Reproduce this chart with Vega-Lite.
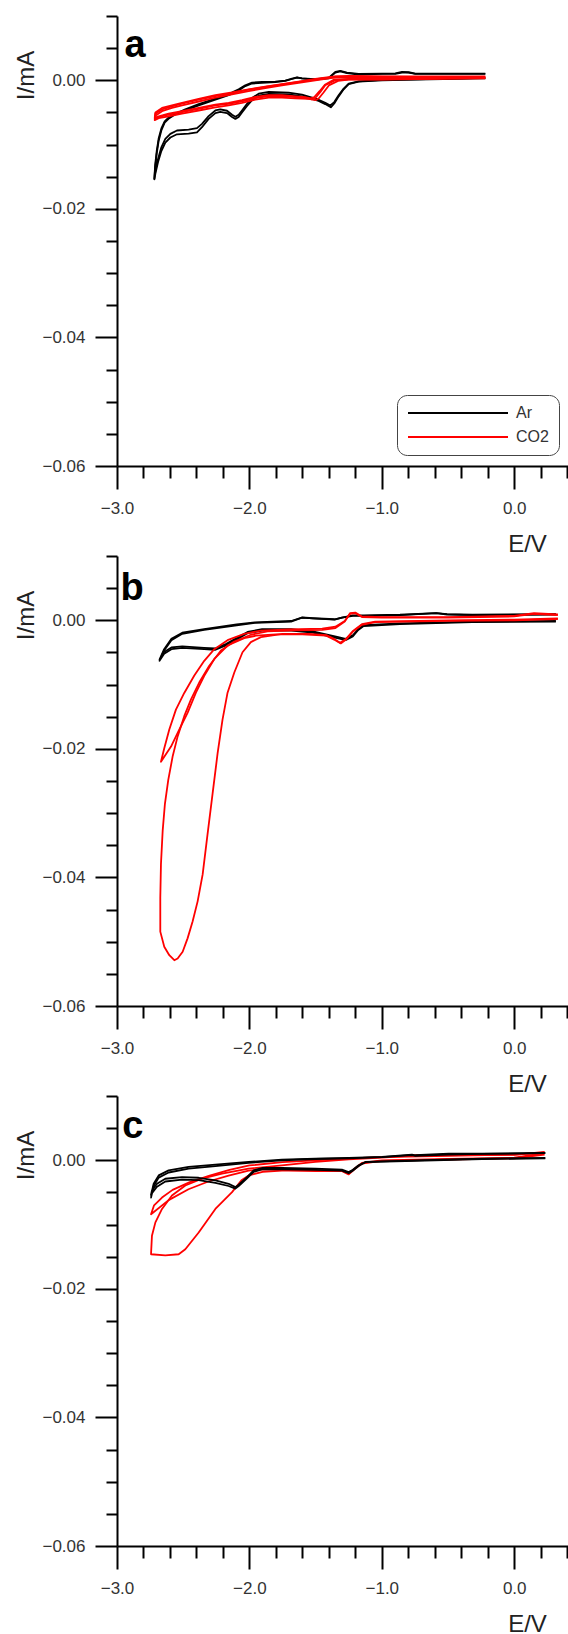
{
"$schema":"https://vega.github.io/schema/vega-lite/v6.json",
"padding":{"left":14,"top":15,"right":0,"bottom":0},
"datasets":{
"a":[
{"g":"Ar","c":1,"E":-0.218,"I":0.00036},{"g":"Ar","c":1,"E":-0.495,"I":0.00026},{"g":"Ar","c":1,"E":-0.747,"I":0.00016},{"g":"Ar","c":1,"E":-0.998,"I":0.00005},{"g":"Ar","c":1,"E":-1.175,"I":-0.00016},{"g":"Ar","c":1,"E":-1.25,"I":-0.00052},{"g":"Ar","c":1,"E":-1.288,"I":-0.0013},{"g":"Ar","c":1,"E":-1.326,"I":-0.00234},{"g":"Ar","c":1,"E":-1.359,"I":-0.00339},{"g":"Ar","c":1,"E":-1.389,"I":-0.00391},{"g":"Ar","c":1,"E":-1.427,"I":-0.00349},{"g":"Ar","c":1,"E":-1.477,"I":-0.00302},{"g":"Ar","c":1,"E":-1.527,"I":-0.00271},{"g":"Ar","c":1,"E":-1.603,"I":-0.00224},{"g":"Ar","c":1,"E":-1.703,"I":-0.00193},{"g":"Ar","c":1,"E":-1.854,"I":-0.00182},{"g":"Ar","c":1,"E":-1.93,"I":-0.00208},{"g":"Ar","c":1,"E":-1.98,"I":-0.00276},{"g":"Ar","c":1,"E":-2.018,"I":-0.00365},{"g":"Ar","c":1,"E":-2.056,"I":-0.00469},{"g":"Ar","c":1,"E":-2.081,"I":-0.00536},{"g":"Ar","c":1,"E":-2.106,"I":-0.00568},{"g":"Ar","c":1,"E":-2.131,"I":-0.00536},{"g":"Ar","c":1,"E":-2.169,"I":-0.00474},{"g":"Ar","c":1,"E":-2.22,"I":-0.00453},{"g":"Ar","c":1,"E":-2.257,"I":-0.00469},{"g":"Ar","c":1,"E":-2.308,"I":-0.00557},{"g":"Ar","c":1,"E":-2.358,"I":-0.00677},{"g":"Ar","c":1,"E":-2.396,"I":-0.00745},{"g":"Ar","c":1,"E":-2.459,"I":-0.00766},{"g":"Ar","c":1,"E":-2.547,"I":-0.00781},{"g":"Ar","c":1,"E":-2.597,"I":-0.00833},{"g":"Ar","c":1,"E":-2.635,"I":-0.00911},{"g":"Ar","c":1,"E":-2.665,"I":-0.01042},{"g":"Ar","c":1,"E":-2.69,"I":-0.01224},{"g":"Ar","c":1,"E":-2.71,"I":-0.01406},{"g":"Ar","c":1,"E":-2.718,"I":-0.01536},
{"g":"Ar","c":1,"E":-2.712,"I":-0.0132},{"g":"Ar","c":1,"E":-2.7,"I":-0.011},{"g":"Ar","c":1,"E":-2.685,"I":-0.009},{"g":"Ar","c":1,"E":-2.665,"I":-0.0075},{"g":"Ar","c":1,"E":-2.64,"I":-0.0064},{"g":"Ar","c":1,"E":-2.605,"I":-0.0057},{"g":"Ar","c":1,"E":-2.559,"I":-0.0052},{"g":"Ar","c":1,"E":-2.484,"I":-0.00453},{"g":"Ar","c":1,"E":-2.383,"I":-0.0037},{"g":"Ar","c":1,"E":-2.257,"I":-0.00286},{"g":"Ar","c":1,"E":-2.157,"I":-0.00214},{"g":"Ar","c":1,"E":-2.081,"I":-0.00141},{"g":"Ar","c":1,"E":-2.031,"I":-0.00078},{"g":"Ar","c":1,"E":-1.98,"I":-0.00036},{"g":"Ar","c":1,"E":-1.905,"I":-0.00026},{"g":"Ar","c":1,"E":-1.804,"I":-0.00021},{"g":"Ar","c":1,"E":-1.729,"I":-0.00005},{"g":"Ar","c":1,"E":-1.678,"I":0.00026},{"g":"Ar","c":1,"E":-1.64,"I":0.00047},{"g":"Ar","c":1,"E":-1.603,"I":0.00031},{"g":"Ar","c":1,"E":-1.502,"I":0.00016},{"g":"Ar","c":1,"E":-1.401,"I":0.00036},{"g":"Ar","c":1,"E":-1.351,"I":0.0013},{"g":"Ar","c":1,"E":-1.313,"I":0.00146},{"g":"Ar","c":1,"E":-1.263,"I":0.0012},{"g":"Ar","c":1,"E":-1.175,"I":0.00099},{"g":"Ar","c":1,"E":-0.998,"I":0.00104},{"g":"Ar","c":1,"E":-0.898,"I":0.00109},{"g":"Ar","c":1,"E":-0.847,"I":0.0013},{"g":"Ar","c":1,"E":-0.797,"I":0.00125},{"g":"Ar","c":1,"E":-0.747,"I":0.00104},{"g":"Ar","c":1,"E":-0.218,"I":0.00104},
{"g":"Ar","c":2,"E":-0.218,"I":0.0003},{"g":"Ar","c":2,"E":-0.747,"I":0.0001},{"g":"Ar","c":2,"E":-0.998,"I":0.0},{"g":"Ar","c":2,"E":-1.175,"I":-0.0002},{"g":"Ar","c":2,"E":-1.25,"I":-0.0006},{"g":"Ar","c":2,"E":-1.288,"I":-0.0014},{"g":"Ar","c":2,"E":-1.326,"I":-0.0025},{"g":"Ar","c":2,"E":-1.359,"I":-0.0036},{"g":"Ar","c":2,"E":-1.385,"I":-0.0042},{"g":"Ar","c":2,"E":-1.427,"I":-0.0037},{"g":"Ar","c":2,"E":-1.477,"I":-0.0032},{"g":"Ar","c":2,"E":-1.527,"I":-0.0029},{"g":"Ar","c":2,"E":-1.603,"I":-0.0025},{"g":"Ar","c":2,"E":-1.703,"I":-0.0022},{"g":"Ar","c":2,"E":-1.854,"I":-0.0021},{"g":"Ar","c":2,"E":-1.93,"I":-0.0024},{"g":"Ar","c":2,"E":-1.98,"I":-0.0031},{"g":"Ar","c":2,"E":-2.018,"I":-0.004},{"g":"Ar","c":2,"E":-2.056,"I":-0.005},{"g":"Ar","c":2,"E":-2.081,"I":-0.0057},{"g":"Ar","c":2,"E":-2.106,"I":-0.006},{"g":"Ar","c":2,"E":-2.131,"I":-0.0057},{"g":"Ar","c":2,"E":-2.169,"I":-0.0051},{"g":"Ar","c":2,"E":-2.22,"I":-0.0049},{"g":"Ar","c":2,"E":-2.257,"I":-0.0051},{"g":"Ar","c":2,"E":-2.308,"I":-0.006},{"g":"Ar","c":2,"E":-2.358,"I":-0.0073},{"g":"Ar","c":2,"E":-2.396,"I":-0.0081},{"g":"Ar","c":2,"E":-2.459,"I":-0.0083},{"g":"Ar","c":2,"E":-2.547,"I":-0.0084},{"g":"Ar","c":2,"E":-2.597,"I":-0.0089},{"g":"Ar","c":2,"E":-2.635,"I":-0.0097},{"g":"Ar","c":2,"E":-2.665,"I":-0.011},{"g":"Ar","c":2,"E":-2.69,"I":-0.0127},{"g":"Ar","c":2,"E":-2.71,"I":-0.0145},{"g":"Ar","c":2,"E":-2.718,"I":-0.0154},
{"g":"Ar","c":2,"E":-2.712,"I":-0.0137},{"g":"Ar","c":2,"E":-2.7,"I":-0.0114},{"g":"Ar","c":2,"E":-2.685,"I":-0.0094},{"g":"Ar","c":2,"E":-2.665,"I":-0.0078},{"g":"Ar","c":2,"E":-2.64,"I":-0.0066},{"g":"Ar","c":2,"E":-2.605,"I":-0.0059},{"g":"Ar","c":2,"E":-2.559,"I":-0.0053},{"g":"Ar","c":2,"E":-2.484,"I":-0.0047},{"g":"Ar","c":2,"E":-2.383,"I":-0.0039},{"g":"Ar","c":2,"E":-2.257,"I":-0.003},{"g":"Ar","c":2,"E":-2.157,"I":-0.0023},{"g":"Ar","c":2,"E":-2.081,"I":-0.0016},{"g":"Ar","c":2,"E":-2.031,"I":-0.0009},{"g":"Ar","c":2,"E":-1.98,"I":-0.0005},{"g":"Ar","c":2,"E":-1.905,"I":-0.0004},{"g":"Ar","c":2,"E":-1.804,"I":-0.0003},{"g":"Ar","c":2,"E":-1.729,"I":-0.0001},{"g":"Ar","c":2,"E":-1.678,"I":0.0002},{"g":"Ar","c":2,"E":-1.64,"I":0.0004},{"g":"Ar","c":2,"E":-1.603,"I":0.0003},{"g":"Ar","c":2,"E":-1.502,"I":0.0001},{"g":"Ar","c":2,"E":-1.401,"I":0.0003},{"g":"Ar","c":2,"E":-1.351,"I":0.0012},{"g":"Ar","c":2,"E":-1.313,"I":0.0014},{"g":"Ar","c":2,"E":-1.263,"I":0.0011},{"g":"Ar","c":2,"E":-1.175,"I":0.0009},{"g":"Ar","c":2,"E":-0.998,"I":0.001},{"g":"Ar","c":2,"E":-0.898,"I":0.001},{"g":"Ar","c":2,"E":-0.847,"I":0.0012},{"g":"Ar","c":2,"E":-0.797,"I":0.0012},{"g":"Ar","c":2,"E":-0.747,"I":0.001},{"g":"Ar","c":2,"E":-0.218,"I":0.001},
{"g":"CO2","c":1,"E":-0.218,"I":0.00036},{"g":"CO2","c":1,"E":-0.747,"I":0.00021},{"g":"CO2","c":1,"E":-0.998,"I":0.00016},{"g":"CO2","c":1,"E":-1.25,"I":0.00016},{"g":"CO2","c":1,"E":-1.351,"I":0.0},{"g":"CO2","c":1,"E":-1.427,"I":-0.00078},{"g":"CO2","c":1,"E":-1.464,"I":-0.00182},{"g":"CO2","c":1,"E":-1.502,"I":-0.00276},{"g":"CO2","c":1,"E":-1.527,"I":-0.00297},{"g":"CO2","c":1,"E":-1.578,"I":-0.00276},{"g":"CO2","c":1,"E":-1.653,"I":-0.0026},{"g":"CO2","c":1,"E":-1.754,"I":-0.00245},{"g":"CO2","c":1,"E":-1.854,"I":-0.00245},{"g":"CO2","c":1,"E":-1.955,"I":-0.00276},{"g":"CO2","c":1,"E":-2.056,"I":-0.00328},{"g":"CO2","c":1,"E":-2.157,"I":-0.00365},{"g":"CO2","c":1,"E":-2.257,"I":-0.00391},{"g":"CO2","c":1,"E":-2.383,"I":-0.00443},{"g":"CO2","c":1,"E":-2.509,"I":-0.00495},{"g":"CO2","c":1,"E":-2.61,"I":-0.00536},{"g":"CO2","c":1,"E":-2.685,"I":-0.00573},{"g":"CO2","c":1,"E":-2.715,"I":-0.00599},
{"g":"CO2","c":1,"E":-2.71,"I":-0.00521},{"g":"CO2","c":1,"E":-2.66,"I":-0.00453},{"g":"CO2","c":1,"E":-2.585,"I":-0.00406},{"g":"CO2","c":1,"E":-2.509,"I":-0.00365},{"g":"CO2","c":1,"E":-2.383,"I":-0.00302},{"g":"CO2","c":1,"E":-2.257,"I":-0.00245},{"g":"CO2","c":1,"E":-2.131,"I":-0.00198},{"g":"CO2","c":1,"E":-2.006,"I":-0.00146},{"g":"CO2","c":1,"E":-1.88,"I":-0.00104},{"g":"CO2","c":1,"E":-1.754,"I":-0.00062},{"g":"CO2","c":1,"E":-1.628,"I":-0.00026},{"g":"CO2","c":1,"E":-1.502,"I":0.0001},{"g":"CO2","c":1,"E":-1.401,"I":0.00042},{"g":"CO2","c":1,"E":-1.351,"I":0.00057},{"g":"CO2","c":1,"E":-1.25,"I":0.00062},{"g":"CO2","c":1,"E":-0.998,"I":0.00057},{"g":"CO2","c":1,"E":-0.747,"I":0.00052},{"g":"CO2","c":1,"E":-0.218,"I":0.00052},
{"g":"CO2","c":2,"E":-0.218,"I":0.0003},{"g":"CO2","c":2,"E":-0.747,"I":0.0002},{"g":"CO2","c":2,"E":-0.998,"I":0.00012},{"g":"CO2","c":2,"E":-1.25,"I":0.0001},{"g":"CO2","c":2,"E":-1.33,"I":-0.0001},{"g":"CO2","c":2,"E":-1.4,"I":-0.0008},{"g":"CO2","c":2,"E":-1.44,"I":-0.0019},{"g":"CO2","c":2,"E":-1.475,"I":-0.0028},{"g":"CO2","c":2,"E":-1.5,"I":-0.0031},{"g":"CO2","c":2,"E":-1.55,"I":-0.0029},{"g":"CO2","c":2,"E":-1.653,"I":-0.0028},{"g":"CO2","c":2,"E":-1.754,"I":-0.0027},{"g":"CO2","c":2,"E":-1.854,"I":-0.0027},{"g":"CO2","c":2,"E":-1.955,"I":-0.003},{"g":"CO2","c":2,"E":-2.056,"I":-0.0035},{"g":"CO2","c":2,"E":-2.157,"I":-0.0039},{"g":"CO2","c":2,"E":-2.257,"I":-0.0042},{"g":"CO2","c":2,"E":-2.383,"I":-0.0047},{"g":"CO2","c":2,"E":-2.509,"I":-0.0052},{"g":"CO2","c":2,"E":-2.61,"I":-0.0056},{"g":"CO2","c":2,"E":-2.685,"I":-0.0059},{"g":"CO2","c":2,"E":-2.715,"I":-0.0062},
{"g":"CO2","c":2,"E":-2.71,"I":-0.0055},{"g":"CO2","c":2,"E":-2.66,"I":-0.0048},{"g":"CO2","c":2,"E":-2.585,"I":-0.0043},{"g":"CO2","c":2,"E":-2.509,"I":-0.0039},{"g":"CO2","c":2,"E":-2.383,"I":-0.0033},{"g":"CO2","c":2,"E":-2.257,"I":-0.0027},{"g":"CO2","c":2,"E":-2.131,"I":-0.0022},{"g":"CO2","c":2,"E":-2.006,"I":-0.0017},{"g":"CO2","c":2,"E":-1.88,"I":-0.0012},{"g":"CO2","c":2,"E":-1.754,"I":-0.0008},{"g":"CO2","c":2,"E":-1.628,"I":-0.0004},{"g":"CO2","c":2,"E":-1.502,"I":0.0},{"g":"CO2","c":2,"E":-1.401,"I":0.0003},{"g":"CO2","c":2,"E":-1.351,"I":0.0004},{"g":"CO2","c":2,"E":-1.25,"I":0.0005},{"g":"CO2","c":2,"E":-0.998,"I":0.0005},{"g":"CO2","c":2,"E":-0.747,"I":0.0004},{"g":"CO2","c":2,"E":-0.218,"I":0.0004},
{"g":"CO2","c":3,"E":-0.218,"I":0.0004},{"g":"CO2","c":3,"E":-0.747,"I":0.00025},{"g":"CO2","c":3,"E":-0.998,"I":0.0002},{"g":"CO2","c":3,"E":-1.25,"I":0.0002},{"g":"CO2","c":3,"E":-1.36,"I":0.0001},{"g":"CO2","c":3,"E":-1.43,"I":-0.0007},{"g":"CO2","c":3,"E":-1.47,"I":-0.0017},{"g":"CO2","c":3,"E":-1.51,"I":-0.0026},{"g":"CO2","c":3,"E":-1.535,"I":-0.0028},{"g":"CO2","c":3,"E":-1.59,"I":-0.0026},{"g":"CO2","c":3,"E":-1.653,"I":-0.0025},{"g":"CO2","c":3,"E":-1.754,"I":-0.0023},{"g":"CO2","c":3,"E":-1.854,"I":-0.0023},{"g":"CO2","c":3,"E":-1.955,"I":-0.0026},{"g":"CO2","c":3,"E":-2.056,"I":-0.0031},{"g":"CO2","c":3,"E":-2.157,"I":-0.0035},{"g":"CO2","c":3,"E":-2.257,"I":-0.0038},{"g":"CO2","c":3,"E":-2.383,"I":-0.0043},{"g":"CO2","c":3,"E":-2.509,"I":-0.0048},{"g":"CO2","c":3,"E":-2.61,"I":-0.0052},{"g":"CO2","c":3,"E":-2.685,"I":-0.0056},{"g":"CO2","c":3,"E":-2.715,"I":-0.0058},
{"g":"CO2","c":3,"E":-2.71,"I":-0.005},{"g":"CO2","c":3,"E":-2.66,"I":-0.0043},{"g":"CO2","c":3,"E":-2.585,"I":-0.0039},{"g":"CO2","c":3,"E":-2.509,"I":-0.0035},{"g":"CO2","c":3,"E":-2.383,"I":-0.0029},{"g":"CO2","c":3,"E":-2.257,"I":-0.0023},{"g":"CO2","c":3,"E":-2.131,"I":-0.0019},{"g":"CO2","c":3,"E":-2.006,"I":-0.0014},{"g":"CO2","c":3,"E":-1.88,"I":-0.001},{"g":"CO2","c":3,"E":-1.754,"I":-0.0006},{"g":"CO2","c":3,"E":-1.628,"I":-0.0002},{"g":"CO2","c":3,"E":-1.502,"I":0.0002},{"g":"CO2","c":3,"E":-1.401,"I":0.0005},{"g":"CO2","c":3,"E":-1.351,"I":0.0006},{"g":"CO2","c":3,"E":-1.25,"I":0.0007},{"g":"CO2","c":3,"E":-0.998,"I":0.0006},{"g":"CO2","c":3,"E":-0.747,"I":0.0006},{"g":"CO2","c":3,"E":-0.218,"I":0.0006}
],
"b":[
{"g":"Ar","c":1,"E":0.315,"I":-0.0001},{"g":"Ar","c":1,"E":-0.315,"I":-0.0002},{"g":"Ar","c":1,"E":-0.863,"I":-0.00048},{"g":"Ar","c":1,"E":-1.137,"I":-0.00075},{"g":"Ar","c":1,"E":-1.178,"I":-0.00139},{"g":"Ar","c":1,"E":-1.219,"I":-0.00235},{"g":"Ar","c":1,"E":-1.274,"I":-0.00289},{"g":"Ar","c":1,"E":-1.329,"I":-0.00262},{"g":"Ar","c":1,"E":-1.521,"I":-0.00171},{"g":"Ar","c":1,"E":-1.685,"I":-0.00139},{"g":"Ar","c":1,"E":-1.904,"I":-0.00139},{"g":"Ar","c":1,"E":-2.014,"I":-0.00182},{"g":"Ar","c":1,"E":-2.096,"I":-0.00278},{"g":"Ar","c":1,"E":-2.178,"I":-0.00369},{"g":"Ar","c":1,"E":-2.26,"I":-0.00439},{"g":"Ar","c":1,"E":-2.342,"I":-0.00428},{"g":"Ar","c":1,"E":-2.507,"I":-0.00407},{"g":"Ar","c":1,"E":-2.589,"I":-0.00423},{"g":"Ar","c":1,"E":-2.644,"I":-0.00492},{"g":"Ar","c":1,"E":-2.679,"I":-0.0061},
{"g":"Ar","c":1,"E":-2.644,"I":-0.0045},{"g":"Ar","c":1,"E":-2.589,"I":-0.00289},{"g":"Ar","c":1,"E":-2.507,"I":-0.00193},{"g":"Ar","c":1,"E":-2.342,"I":-0.00139},{"g":"Ar","c":1,"E":-2.096,"I":-0.00064},{"g":"Ar","c":1,"E":-1.959,"I":-0.00032},{"g":"Ar","c":1,"E":-1.685,"I":-0.00011},{"g":"Ar","c":1,"E":-1.603,"I":0.00043},{"g":"Ar","c":1,"E":-1.521,"I":0.00032},{"g":"Ar","c":1,"E":-1.356,"I":0.00016},{"g":"Ar","c":1,"E":-1.301,"I":0.00043},{"g":"Ar","c":1,"E":-1.219,"I":0.00075},{"g":"Ar","c":1,"E":-1.137,"I":0.00075},{"g":"Ar","c":1,"E":-0.863,"I":0.00086},{"g":"Ar","c":1,"E":-0.589,"I":0.00112},{"g":"Ar","c":1,"E":-0.507,"I":0.00096},{"g":"Ar","c":1,"E":-0.315,"I":0.00086},{"g":"Ar","c":1,"E":0.315,"I":0.00096},
{"g":"Ar","c":2,"E":0.315,"I":-0.0002},{"g":"Ar","c":2,"E":-0.315,"I":-0.0003},{"g":"Ar","c":2,"E":-0.863,"I":-0.0006},{"g":"Ar","c":2,"E":-1.137,"I":-0.0009},{"g":"Ar","c":2,"E":-1.178,"I":-0.0015},{"g":"Ar","c":2,"E":-1.219,"I":-0.0025},{"g":"Ar","c":2,"E":-1.274,"I":-0.0031},{"g":"Ar","c":2,"E":-1.329,"I":-0.0028},{"g":"Ar","c":2,"E":-1.521,"I":-0.0019},{"g":"Ar","c":2,"E":-1.685,"I":-0.0016},{"g":"Ar","c":2,"E":-1.904,"I":-0.0016},{"g":"Ar","c":2,"E":-2.014,"I":-0.002},{"g":"Ar","c":2,"E":-2.096,"I":-0.003},{"g":"Ar","c":2,"E":-2.178,"I":-0.0039},{"g":"Ar","c":2,"E":-2.26,"I":-0.0046},{"g":"Ar","c":2,"E":-2.342,"I":-0.0045},{"g":"Ar","c":2,"E":-2.507,"I":-0.0043},{"g":"Ar","c":2,"E":-2.589,"I":-0.0045},{"g":"Ar","c":2,"E":-2.644,"I":-0.0052},{"g":"Ar","c":2,"E":-2.679,"I":-0.0063},
{"g":"Ar","c":2,"E":-2.644,"I":-0.0047},{"g":"Ar","c":2,"E":-2.589,"I":-0.0031},{"g":"Ar","c":2,"E":-2.507,"I":-0.0021},{"g":"Ar","c":2,"E":-2.342,"I":-0.0015},{"g":"Ar","c":2,"E":-2.096,"I":-0.0008},{"g":"Ar","c":2,"E":-1.959,"I":-0.0004},{"g":"Ar","c":2,"E":-1.685,"I":-0.0002},{"g":"Ar","c":2,"E":-1.603,"I":0.0004},{"g":"Ar","c":2,"E":-1.521,"I":0.0003},{"g":"Ar","c":2,"E":-1.356,"I":0.0001},{"g":"Ar","c":2,"E":-1.301,"I":0.0004},{"g":"Ar","c":2,"E":-1.219,"I":0.0007},{"g":"Ar","c":2,"E":-1.137,"I":0.0007},{"g":"Ar","c":2,"E":-0.863,"I":0.0008},{"g":"Ar","c":2,"E":-0.589,"I":0.0011},{"g":"Ar","c":2,"E":-0.507,"I":0.0009},{"g":"Ar","c":2,"E":-0.315,"I":0.0008},{"g":"Ar","c":2,"E":0.315,"I":0.0009},
{"g":"CO2","c":1,"E":0.33,"I":0.0003},{"g":"CO2","c":1,"E":0.0,"I":0.0001},{"g":"CO2","c":1,"E":-0.5,"I":0.0},{"g":"CO2","c":1,"E":-1.05,"I":-0.0002},{"g":"CO2","c":1,"E":-1.15,"I":-0.0006},{"g":"CO2","c":1,"E":-1.22,"I":-0.0017},{"g":"CO2","c":1,"E":-1.27,"I":-0.0029},{"g":"CO2","c":1,"E":-1.315,"I":-0.0035},{"g":"CO2","c":1,"E":-1.36,"I":-0.0029},{"g":"CO2","c":1,"E":-1.42,"I":-0.0023},{"g":"CO2","c":1,"E":-1.55,"I":-0.0021},{"g":"CO2","c":1,"E":-1.75,"I":-0.0021},{"g":"CO2","c":1,"E":-1.913,"I":-0.00262},{"g":"CO2","c":1,"E":-1.989,"I":-0.0034},{"g":"CO2","c":1,"E":-2.052,"I":-0.00497},{"g":"CO2","c":1,"E":-2.114,"I":-0.00812},{"g":"CO2","c":1,"E":-2.165,"I":-0.01126},{"g":"CO2","c":1,"E":-2.203,"I":-0.01545},{"g":"CO2","c":1,"E":-2.24,"I":-0.02068},{"g":"CO2","c":1,"E":-2.278,"I":-0.02697},{"g":"CO2","c":1,"E":-2.316,"I":-0.03325},{"g":"CO2","c":1,"E":-2.353,"I":-0.03953},{"g":"CO2","c":1,"E":-2.391,"I":-0.04372},{"g":"CO2","c":1,"E":-2.429,"I":-0.04686},{"g":"CO2","c":1,"E":-2.467,"I":-0.04948},{"g":"CO2","c":1,"E":-2.504,"I":-0.05157},{"g":"CO2","c":1,"E":-2.542,"I":-0.05262},{"g":"CO2","c":1,"E":-2.567,"I":-0.05288},{"g":"CO2","c":1,"E":-2.605,"I":-0.0521},{"g":"CO2","c":1,"E":-2.643,"I":-0.05079},{"g":"CO2","c":1,"E":-2.673,"I":-0.04843},
{"g":"CO2","c":1,"E":-2.673,"I":-0.0432},{"g":"CO2","c":1,"E":-2.668,"I":-0.03796},{"g":"CO2","c":1,"E":-2.655,"I":-0.03273},{"g":"CO2","c":1,"E":-2.638,"I":-0.02854},{"g":"CO2","c":1,"E":-2.613,"I":-0.02487},{"g":"CO2","c":1,"E":-2.58,"I":-0.0212},{"g":"CO2","c":1,"E":-2.542,"I":-0.01806},{"g":"CO2","c":1,"E":-2.492,"I":-0.01492},{"g":"CO2","c":1,"E":-2.441,"I":-0.0123},{"g":"CO2","c":1,"E":-2.379,"I":-0.00969},{"g":"CO2","c":1,"E":-2.303,"I":-0.00707},{"g":"CO2","c":1,"E":-2.215,"I":-0.00471},{"g":"CO2","c":1,"E":-2.114,"I":-0.0033},{"g":"CO2","c":1,"E":-1.989,"I":-0.00225},{"g":"CO2","c":1,"E":-1.863,"I":-0.00173},{"g":"CO2","c":1,"E":-1.662,"I":-0.00157},{"g":"CO2","c":1,"E":-1.45,"I":-0.0015},{"g":"CO2","c":1,"E":-1.35,"I":-0.0012},{"g":"CO2","c":1,"E":-1.28,"I":-0.0002},{"g":"CO2","c":1,"E":-1.24,"I":0.0011},{"g":"CO2","c":1,"E":-1.2,"I":0.0012},{"g":"CO2","c":1,"E":-1.15,"I":0.0006},{"g":"CO2","c":1,"E":-1.0,"I":0.0005},{"g":"CO2","c":1,"E":-0.5,"I":0.0005},{"g":"CO2","c":1,"E":0.0,"I":0.0007},{"g":"CO2","c":1,"E":0.15,"I":0.0011},{"g":"CO2","c":1,"E":0.33,"I":0.0009},
{"g":"CO2","c":2,"E":0.33,"I":0.0002},{"g":"CO2","c":2,"E":0.0,"I":0.0},{"g":"CO2","c":2,"E":-0.5,"I":-0.0001},{"g":"CO2","c":2,"E":-1.05,"I":-0.0003},{"g":"CO2","c":2,"E":-1.15,"I":-0.0007},{"g":"CO2","c":2,"E":-1.22,"I":-0.0018},{"g":"CO2","c":2,"E":-1.27,"I":-0.003},{"g":"CO2","c":2,"E":-1.31,"I":-0.0036},{"g":"CO2","c":2,"E":-1.36,"I":-0.003},{"g":"CO2","c":2,"E":-1.42,"I":-0.0024},{"g":"CO2","c":2,"E":-1.6,"I":-0.0022},{"g":"CO2","c":2,"E":-1.8,"I":-0.0022},{"g":"CO2","c":2,"E":-1.95,"I":-0.0024},{"g":"CO2","c":2,"E":-2.039,"I":-0.00277},{"g":"CO2","c":2,"E":-2.165,"I":-0.00393},{"g":"CO2","c":2,"E":-2.265,"I":-0.00602},{"g":"CO2","c":2,"E":-2.341,"I":-0.00864},{"g":"CO2","c":2,"E":-2.404,"I":-0.01126},{"g":"CO2","c":2,"E":-2.467,"I":-0.0144},{"g":"CO2","c":2,"E":-2.53,"I":-0.01702},{"g":"CO2","c":2,"E":-2.592,"I":-0.01964},{"g":"CO2","c":2,"E":-2.643,"I":-0.02121},{"g":"CO2","c":2,"E":-2.668,"I":-0.022},
{"g":"CO2","c":2,"E":-2.643,"I":-0.0199},{"g":"CO2","c":2,"E":-2.605,"I":-0.017},{"g":"CO2","c":2,"E":-2.555,"I":-0.0139},{"g":"CO2","c":2,"E":-2.492,"I":-0.0113},{"g":"CO2","c":2,"E":-2.416,"I":-0.0086},{"g":"CO2","c":2,"E":-2.341,"I":-0.0063},{"g":"CO2","c":2,"E":-2.265,"I":-0.0045},{"g":"CO2","c":2,"E":-2.165,"I":-0.0031},{"g":"CO2","c":2,"E":-2.039,"I":-0.0021},{"g":"CO2","c":2,"E":-1.913,"I":-0.0016},{"g":"CO2","c":2,"E":-1.7,"I":-0.0014},{"g":"CO2","c":2,"E":-1.45,"I":-0.0013},{"g":"CO2","c":2,"E":-1.35,"I":-0.001},{"g":"CO2","c":2,"E":-1.28,"I":-0.0001},{"g":"CO2","c":2,"E":-1.24,"I":0.001},{"g":"CO2","c":2,"E":-1.2,"I":0.0011},{"g":"CO2","c":2,"E":-1.15,"I":0.0005},{"g":"CO2","c":2,"E":-1.0,"I":0.0004},{"g":"CO2","c":2,"E":-0.5,"I":0.0004},{"g":"CO2","c":2,"E":0.0,"I":0.0006},{"g":"CO2","c":2,"E":0.15,"I":0.001},{"g":"CO2","c":2,"E":0.33,"I":0.0008}
],
"c":[
{"g":"CO2","c":1,"E":0.23,"I":0.0011},{"g":"CO2","c":1,"E":0.0,"I":0.0004},{"g":"CO2","c":1,"E":-0.5,"I":0.0002},{"g":"CO2","c":1,"E":-1.0,"I":0.0},{"g":"CO2","c":1,"E":-1.15,"I":-0.0004},{"g":"CO2","c":1,"E":-1.2,"I":-0.0012},{"g":"CO2","c":1,"E":-1.25,"I":-0.0021},{"g":"CO2","c":1,"E":-1.3,"I":-0.0016},{"g":"CO2","c":1,"E":-1.5,"I":-0.0016},{"g":"CO2","c":1,"E":-1.754,"I":-0.0016},{"g":"CO2","c":1,"E":-1.9,"I":-0.0018},{"g":"CO2","c":1,"E":-2.006,"I":-0.00235},{"g":"CO2","c":1,"E":-2.06,"I":-0.0031},{"g":"CO2","c":1,"E":-2.131,"I":-0.00496},{"g":"CO2","c":1,"E":-2.257,"I":-0.00757},{"g":"CO2","c":1,"E":-2.383,"I":-0.01123},{"g":"CO2","c":1,"E":-2.484,"I":-0.01384},{"g":"CO2","c":1,"E":-2.534,"I":-0.01462},{"g":"CO2","c":1,"E":-2.635,"I":-0.01478},{"g":"CO2","c":1,"E":-2.743,"I":-0.01462},
{"g":"CO2","c":1,"E":-2.736,"I":-0.01175},{"g":"CO2","c":1,"E":-2.71,"I":-0.00966},{"g":"CO2","c":1,"E":-2.66,"I":-0.00757},{"g":"CO2","c":1,"E":-2.585,"I":-0.00548},{"g":"CO2","c":1,"E":-2.484,"I":-0.00392},{"g":"CO2","c":1,"E":-2.358,"I":-0.00287},{"g":"CO2","c":1,"E":-2.207,"I":-0.00209},{"g":"CO2","c":1,"E":-2.006,"I":-0.00131},{"g":"CO2","c":1,"E":-1.754,"I":-0.00078},{"g":"CO2","c":1,"E":-1.502,"I":-0.00026},{"g":"CO2","c":1,"E":-1.25,"I":0.00016},{"g":"CO2","c":1,"E":-1.0,"I":0.0004},{"g":"CO2","c":1,"E":-0.747,"I":0.00078},{"g":"CO2","c":1,"E":0.0,"I":0.00085},{"g":"CO2","c":1,"E":0.23,"I":0.0013},
{"g":"CO2","c":2,"E":0.23,"I":0.0009},{"g":"CO2","c":2,"E":0.0,"I":0.0003},{"g":"CO2","c":2,"E":-0.5,"I":0.0001},{"g":"CO2","c":2,"E":-1.0,"I":-0.0001},{"g":"CO2","c":2,"E":-1.15,"I":-0.0005},{"g":"CO2","c":2,"E":-1.2,"I":-0.0013},{"g":"CO2","c":2,"E":-1.25,"I":-0.0022},{"g":"CO2","c":2,"E":-1.3,"I":-0.0017},{"g":"CO2","c":2,"E":-1.5,"I":-0.0017},{"g":"CO2","c":2,"E":-1.754,"I":-0.0015},{"g":"CO2","c":2,"E":-1.9,"I":-0.0014},{"g":"CO2","c":2,"E":-2.006,"I":-0.0016},{"g":"CO2","c":2,"E":-2.157,"I":-0.0024},{"g":"CO2","c":2,"E":-2.31,"I":-0.0033},{"g":"CO2","c":2,"E":-2.46,"I":-0.0045},{"g":"CO2","c":2,"E":-2.61,"I":-0.0062},{"g":"CO2","c":2,"E":-2.743,"I":-0.0084},
{"g":"CO2","c":2,"E":-2.72,"I":-0.007},{"g":"CO2","c":2,"E":-2.66,"I":-0.0058},{"g":"CO2","c":2,"E":-2.58,"I":-0.0046},{"g":"CO2","c":2,"E":-2.45,"I":-0.0034},{"g":"CO2","c":2,"E":-2.3,"I":-0.0024},{"g":"CO2","c":2,"E":-2.15,"I":-0.0015},{"g":"CO2","c":2,"E":-2.0,"I":-0.0008},{"g":"CO2","c":2,"E":-1.75,"I":-0.0003},{"g":"CO2","c":2,"E":-1.5,"I":0.0},{"g":"CO2","c":2,"E":-1.25,"I":0.0003},{"g":"CO2","c":2,"E":-1.0,"I":0.0005},{"g":"CO2","c":2,"E":-0.5,"I":0.0007},{"g":"CO2","c":2,"E":0.0,"I":0.0009},{"g":"CO2","c":2,"E":0.23,"I":0.0012},
{"g":"Ar","c":1,"E":0.235,"I":0.00037},{"g":"Ar","c":1,"E":-0.243,"I":0.00026},{"g":"Ar","c":1,"E":-0.747,"I":0.0},{"g":"Ar","c":1,"E":-1.124,"I":-0.00026},{"g":"Ar","c":1,"E":-1.175,"I":-0.00078},{"g":"Ar","c":1,"E":-1.225,"I":-0.00157},{"g":"Ar","c":1,"E":-1.25,"I":-0.00183},{"g":"Ar","c":1,"E":-1.301,"I":-0.00146},{"g":"Ar","c":1,"E":-1.502,"I":-0.00131},{"g":"Ar","c":1,"E":-1.754,"I":-0.0012},{"g":"Ar","c":1,"E":-1.905,"I":-0.0012},{"g":"Ar","c":1,"E":-1.968,"I":-0.00157},{"g":"Ar","c":1,"E":-2.018,"I":-0.00261},{"g":"Ar","c":1,"E":-2.081,"I":-0.00381},{"g":"Ar","c":1,"E":-2.106,"I":-0.00418},{"g":"Ar","c":1,"E":-2.157,"I":-0.00366},{"g":"Ar","c":1,"E":-2.257,"I":-0.00313},{"g":"Ar","c":1,"E":-2.383,"I":-0.00272},{"g":"Ar","c":1,"E":-2.509,"I":-0.00261},{"g":"Ar","c":1,"E":-2.635,"I":-0.00287},{"g":"Ar","c":1,"E":-2.698,"I":-0.00366},{"g":"Ar","c":1,"E":-2.736,"I":-0.0047},{"g":"Ar","c":1,"E":-2.743,"I":-0.00538},
{"g":"Ar","c":1,"E":-2.723,"I":-0.00366},{"g":"Ar","c":1,"E":-2.685,"I":-0.00235},{"g":"Ar","c":1,"E":-2.61,"I":-0.00157},{"g":"Ar","c":1,"E":-2.459,"I":-0.00104},{"g":"Ar","c":1,"E":-2.257,"I":-0.00068},{"g":"Ar","c":1,"E":-2.006,"I":-0.00026},{"g":"Ar","c":1,"E":-1.754,"I":0.0001},{"g":"Ar","c":1,"E":-1.502,"I":0.00026},{"g":"Ar","c":1,"E":-1.25,"I":0.00037},{"g":"Ar","c":1,"E":-0.998,"I":0.00052},{"g":"Ar","c":1,"E":-0.772,"I":0.00089},{"g":"Ar","c":1,"E":-0.747,"I":0.00078},{"g":"Ar","c":1,"E":-0.495,"I":0.00104},{"g":"Ar","c":1,"E":-0.243,"I":0.00104},{"g":"Ar","c":1,"E":0.235,"I":0.00115},
{"g":"Ar","c":2,"E":0.235,"I":0.0003},{"g":"Ar","c":2,"E":-0.243,"I":0.0002},{"g":"Ar","c":2,"E":-0.747,"I":-0.0001},{"g":"Ar","c":2,"E":-1.124,"I":-0.0003},{"g":"Ar","c":2,"E":-1.175,"I":-0.0009},{"g":"Ar","c":2,"E":-1.225,"I":-0.0017},{"g":"Ar","c":2,"E":-1.25,"I":-0.002},{"g":"Ar","c":2,"E":-1.301,"I":-0.0016},{"g":"Ar","c":2,"E":-1.502,"I":-0.0015},{"g":"Ar","c":2,"E":-1.754,"I":-0.0014},{"g":"Ar","c":2,"E":-1.905,"I":-0.0014},{"g":"Ar","c":2,"E":-1.968,"I":-0.0018},{"g":"Ar","c":2,"E":-2.018,"I":-0.0028},{"g":"Ar","c":2,"E":-2.081,"I":-0.004},{"g":"Ar","c":2,"E":-2.106,"I":-0.0044},{"g":"Ar","c":2,"E":-2.157,"I":-0.004},{"g":"Ar","c":2,"E":-2.257,"I":-0.0035},{"g":"Ar","c":2,"E":-2.383,"I":-0.0031},{"g":"Ar","c":2,"E":-2.509,"I":-0.003},{"g":"Ar","c":2,"E":-2.635,"I":-0.0033},{"g":"Ar","c":2,"E":-2.698,"I":-0.0041},{"g":"Ar","c":2,"E":-2.736,"I":-0.0051},{"g":"Ar","c":2,"E":-2.743,"I":-0.0058},
{"g":"Ar","c":2,"E":-2.723,"I":-0.004},{"g":"Ar","c":2,"E":-2.685,"I":-0.0027},{"g":"Ar","c":2,"E":-2.61,"I":-0.0019},{"g":"Ar","c":2,"E":-2.459,"I":-0.0013},{"g":"Ar","c":2,"E":-2.257,"I":-0.0009},{"g":"Ar","c":2,"E":-2.006,"I":-0.0004},{"g":"Ar","c":2,"E":-1.754,"I":0.0},{"g":"Ar","c":2,"E":-1.502,"I":0.0002},{"g":"Ar","c":2,"E":-1.25,"I":0.0003},{"g":"Ar","c":2,"E":-0.998,"I":0.0005},{"g":"Ar","c":2,"E":-0.772,"I":0.0008},{"g":"Ar","c":2,"E":-0.747,"I":0.0007},{"g":"Ar","c":2,"E":-0.495,"I":0.0009},{"g":"Ar","c":2,"E":-0.243,"I":0.001},{"g":"Ar","c":2,"E":0.235,"I":0.0011}
]
},
"vconcat":[
{"width":452,"height":450,
"layer":[
{"data":{"name":"a"},
"mark":{"type":"line","strokeWidth":1.8,"strokeJoin":"round"},
"encoding":{
"x":{"field":"E","type":"quantitative","scale":{"domain":[-3,0.414],"nice":false,"zero":false},"axis":{"title":"E/V","values":[-3,-2.8,-2.6,-2.4,-2.2,-2,-1.8,-1.6,-1.4,-1.2,-1,-0.8,-0.6,-0.4,-0.2,0,0.2,0.4],"tickSize":{"condition":{"test":"abs(datum.value-round(datum.value))<0.01","value":23},"value":12},"labelFontSize":{"condition":{"test":"abs(datum.value-round(datum.value))<0.01","value":17},"value":0},"labelExpr":"abs(datum.value-round(datum.value))<0.01 ? format(datum.value,'.1f') : ''","labelPadding":11,"titleX":410,"titleY":85,"titleAlign":"center","titleBaseline":"alphabetic","titleAngle":0}},
"y":{"field":"I","type":"quantitative","scale":{"domain":[-0.06,0.01],"nice":false,"zero":false},"axis":{"title":"I/mA","values":[0.01,0.005,0,-0.005,-0.01,-0.015,-0.02,-0.025,-0.03,-0.035,-0.04,-0.045,-0.05,-0.055,-0.06],"tickSize":{"condition":{"test":"abs(datum.value*50-round(datum.value*50))<0.01","value":22},"value":11},"labelFontSize":{"condition":{"test":"abs(datum.value*50-round(datum.value*50))<0.01","value":17},"value":0},"labelExpr":"abs(datum.value*50-round(datum.value*50))<0.01 ? format(datum.value,'.2f') : ''","labelPadding":10,"titleX":-84,"titleY":59,"titleAlign":"center","titleBaseline":"alphabetic","titleAngle":-90}},
"color":{"field":"g","type":"nominal","scale":{"domain":["Ar","CO2"],"range":["#000000","#ff0000"]},"legend":{"title":null,"orient":"none","legendX":280,"legendY":379,"symbolType":"stroke","symbolSize":10000,"symbolStrokeWidth":2,"clipHeight":16,"rowPadding":8,"labelOffset":7,"labelFontSize":16,"labelFont":"Liberation Sans","labelColor":"#333","padding":10,"cornerRadius":10,"strokeColor":"#444","fillColor":"#ffffff","symbolOffset":0}},
"detail":{"field":"c"},
"order":{"value":null}}},
{"data":{"values":[{"t":"a"}]},
"mark":{"type":"text","align":"left","baseline":"alphabetic","fontSize":38,"fontWeight":"bold","font":"Liberation Sans","color":"#000"},
"encoding":{
"x":{"datum":-2.944,"type":"quantitative","axis":{"title":"E/V","values":[-3,-2.8,-2.6,-2.4,-2.2,-2,-1.8,-1.6,-1.4,-1.2,-1,-0.8,-0.6,-0.4,-0.2,0,0.2,0.4],"tickSize":{"condition":{"test":"abs(datum.value-round(datum.value))<0.01","value":23},"value":12},"labelFontSize":{"condition":{"test":"abs(datum.value-round(datum.value))<0.01","value":17},"value":0},"labelExpr":"abs(datum.value-round(datum.value))<0.01 ? format(datum.value,'.1f') : ''","labelPadding":11,"titleX":410,"titleY":85,"titleAlign":"center","titleBaseline":"alphabetic","titleAngle":0}},
"y":{"datum":0.00362,"type":"quantitative","axis":{"title":"I/mA","values":[0.01,0.005,0,-0.005,-0.01,-0.015,-0.02,-0.025,-0.03,-0.035,-0.04,-0.045,-0.05,-0.055,-0.06],"tickSize":{"condition":{"test":"abs(datum.value*50-round(datum.value*50))<0.01","value":22},"value":11},"labelFontSize":{"condition":{"test":"abs(datum.value*50-round(datum.value*50))<0.01","value":17},"value":0},"labelExpr":"abs(datum.value*50-round(datum.value*50))<0.01 ? format(datum.value,'.2f') : ''","labelPadding":10,"titleX":-84,"titleY":59,"titleAlign":"center","titleBaseline":"alphabetic","titleAngle":-90}},
"text":{"field":"t"}}}
]},
{"width":452,"height":450,
"layer":[
{"data":{"name":"b"},
"mark":{"type":"line","strokeWidth":1.8,"strokeJoin":"round"},
"encoding":{
"x":{"field":"E","type":"quantitative","scale":{"domain":[-3,0.414],"nice":false,"zero":false},"axis":{"title":"E/V","values":[-3,-2.8,-2.6,-2.4,-2.2,-2,-1.8,-1.6,-1.4,-1.2,-1,-0.8,-0.6,-0.4,-0.2,0,0.2,0.4],"tickSize":{"condition":{"test":"abs(datum.value-round(datum.value))<0.01","value":23},"value":12},"labelFontSize":{"condition":{"test":"abs(datum.value-round(datum.value))<0.01","value":17},"value":0},"labelExpr":"abs(datum.value-round(datum.value))<0.01 ? format(datum.value,'.1f') : ''","labelPadding":11,"titleX":410,"titleY":85,"titleAlign":"center","titleBaseline":"alphabetic","titleAngle":0}},
"y":{"field":"I","type":"quantitative","scale":{"domain":[-0.06,0.01],"nice":false,"zero":false},"axis":{"title":"I/mA","values":[0.01,0.005,0,-0.005,-0.01,-0.015,-0.02,-0.025,-0.03,-0.035,-0.04,-0.045,-0.05,-0.055,-0.06],"tickSize":{"condition":{"test":"abs(datum.value*50-round(datum.value*50))<0.01","value":22},"value":11},"labelFontSize":{"condition":{"test":"abs(datum.value*50-round(datum.value*50))<0.01","value":17},"value":0},"labelExpr":"abs(datum.value*50-round(datum.value*50))<0.01 ? format(datum.value,'.2f') : ''","labelPadding":10,"titleX":-84,"titleY":59,"titleAlign":"center","titleBaseline":"alphabetic","titleAngle":-90}},
"color":{"field":"g","type":"nominal","scale":{"domain":["Ar","CO2"],"range":["#000000","#ff0000"]},"legend":null},
"detail":{"field":"c"},
"order":{"value":null}}},
{"data":{"values":[{"t":"b"}]},
"mark":{"type":"text","align":"left","baseline":"alphabetic","fontSize":38,"fontWeight":"bold","font":"Liberation Sans","color":"#000"},
"encoding":{
"x":{"datum":-2.974,"type":"quantitative","axis":{"title":"E/V","values":[-3,-2.8,-2.6,-2.4,-2.2,-2,-1.8,-1.6,-1.4,-1.2,-1,-0.8,-0.6,-0.4,-0.2,0,0.2,0.4],"tickSize":{"condition":{"test":"abs(datum.value-round(datum.value))<0.01","value":23},"value":12},"labelFontSize":{"condition":{"test":"abs(datum.value-round(datum.value))<0.01","value":17},"value":0},"labelExpr":"abs(datum.value-round(datum.value))<0.01 ? format(datum.value,'.1f') : ''","labelPadding":11,"titleX":410,"titleY":85,"titleAlign":"center","titleBaseline":"alphabetic","titleAngle":0}},
"y":{"datum":0.00316,"type":"quantitative","axis":{"title":"I/mA","values":[0.01,0.005,0,-0.005,-0.01,-0.015,-0.02,-0.025,-0.03,-0.035,-0.04,-0.045,-0.05,-0.055,-0.06],"tickSize":{"condition":{"test":"abs(datum.value*50-round(datum.value*50))<0.01","value":22},"value":11},"labelFontSize":{"condition":{"test":"abs(datum.value*50-round(datum.value*50))<0.01","value":17},"value":0},"labelExpr":"abs(datum.value*50-round(datum.value*50))<0.01 ? format(datum.value,'.2f') : ''","labelPadding":10,"titleX":-84,"titleY":59,"titleAlign":"center","titleBaseline":"alphabetic","titleAngle":-90}},
"text":{"field":"t"}}}
]},
{"width":452,"height":450,
"layer":[
{"data":{"name":"c"},
"mark":{"type":"line","strokeWidth":1.8,"strokeJoin":"round"},
"encoding":{
"x":{"field":"E","type":"quantitative","scale":{"domain":[-3,0.414],"nice":false,"zero":false},"axis":{"title":"E/V","values":[-3,-2.8,-2.6,-2.4,-2.2,-2,-1.8,-1.6,-1.4,-1.2,-1,-0.8,-0.6,-0.4,-0.2,0,0.2,0.4],"tickSize":{"condition":{"test":"abs(datum.value-round(datum.value))<0.01","value":23},"value":12},"labelFontSize":{"condition":{"test":"abs(datum.value-round(datum.value))<0.01","value":17},"value":0},"labelExpr":"abs(datum.value-round(datum.value))<0.01 ? format(datum.value,'.1f') : ''","labelPadding":11,"titleX":410,"titleY":85,"titleAlign":"center","titleBaseline":"alphabetic","titleAngle":0}},
"y":{"field":"I","type":"quantitative","scale":{"domain":[-0.06,0.01],"nice":false,"zero":false},"axis":{"title":"I/mA","values":[0.01,0.005,0,-0.005,-0.01,-0.015,-0.02,-0.025,-0.03,-0.035,-0.04,-0.045,-0.05,-0.055,-0.06],"tickSize":{"condition":{"test":"abs(datum.value*50-round(datum.value*50))<0.01","value":22},"value":11},"labelFontSize":{"condition":{"test":"abs(datum.value*50-round(datum.value*50))<0.01","value":17},"value":0},"labelExpr":"abs(datum.value*50-round(datum.value*50))<0.01 ? format(datum.value,'.2f') : ''","labelPadding":10,"titleX":-84,"titleY":59,"titleAlign":"center","titleBaseline":"alphabetic","titleAngle":-90}},
"color":{"field":"g","type":"nominal","scale":{"domain":["Ar","CO2"],"range":["#000000","#ff0000"]},"legend":null},
"detail":{"field":"c"},
"order":{"value":null}}},
{"data":{"values":[{"t":"c"}]},
"mark":{"type":"text","align":"left","baseline":"alphabetic","fontSize":38,"fontWeight":"bold","font":"Liberation Sans","color":"#000"},
"encoding":{
"x":{"datum":-2.96,"type":"quantitative","axis":{"title":"E/V","values":[-3,-2.8,-2.6,-2.4,-2.2,-2,-1.8,-1.6,-1.4,-1.2,-1,-0.8,-0.6,-0.4,-0.2,0,0.2,0.4],"tickSize":{"condition":{"test":"abs(datum.value-round(datum.value))<0.01","value":23},"value":12},"labelFontSize":{"condition":{"test":"abs(datum.value-round(datum.value))<0.01","value":17},"value":0},"labelExpr":"abs(datum.value-round(datum.value))<0.01 ? format(datum.value,'.1f') : ''","labelPadding":11,"titleX":410,"titleY":85,"titleAlign":"center","titleBaseline":"alphabetic","titleAngle":0}},
"y":{"datum":0.00347,"type":"quantitative","axis":{"title":"I/mA","values":[0.01,0.005,0,-0.005,-0.01,-0.015,-0.02,-0.025,-0.03,-0.035,-0.04,-0.045,-0.05,-0.055,-0.06],"tickSize":{"condition":{"test":"abs(datum.value*50-round(datum.value*50))<0.01","value":22},"value":11},"labelFontSize":{"condition":{"test":"abs(datum.value*50-round(datum.value*50))<0.01","value":17},"value":0},"labelExpr":"abs(datum.value*50-round(datum.value*50))<0.01 ? format(datum.value,'.2f') : ''","labelPadding":10,"titleX":-84,"titleY":59,"titleAlign":"center","titleBaseline":"alphabetic","titleAngle":-90}},
"text":{"field":"t"}}}
]}
],
"spacing":90,
"bounds":"flush",
"resolve":{"scale":{"color":"independent","x":"independent","y":"independent"},"legend":{"color":"independent"},"axis":{"x":"independent","y":"independent"}},
"config":{
"view":{"stroke":null},
"font":"Liberation Sans",
"axis":{"grid":false,"domainColor":"#000","domainWidth":2,"tickColor":"#000","tickWidth":2,"labelFont":"Liberation Sans","labelColor":"#333","titleFont":"Liberation Sans","titleFontSize":24,"titleFontWeight":"normal","titleColor":"#222","labelOverlap":false,"labelFlush":false,"labelBound":false}
}
}
